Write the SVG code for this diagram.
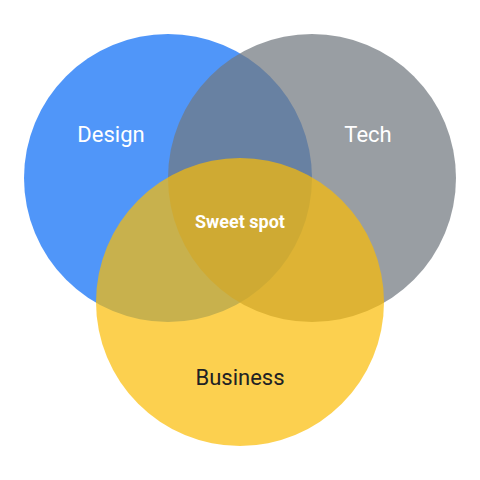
<svg xmlns="http://www.w3.org/2000/svg" width="480" height="480" viewBox="0 0 480 480">
<style>
.lbl{font-family:Roboto,"Liberation Sans",sans-serif;font-size:22px;text-anchor:middle;dominant-baseline:central}
.w{fill:#ffffff}
.d{fill:#202124}
.b{font-weight:bold;font-size:18px}
</style>
<rect width="480" height="480" fill="#ffffff"/>
<g id="design"><circle cx="168" cy="178" r="144" fill="#3D8BF8" fill-opacity="0.9"/></g>
<g id="tech"><circle cx="312" cy="178" r="144" fill="#72787F" fill-opacity="0.72"/></g>
<g id="business"><circle cx="240" cy="302" r="144" fill="#FBBC04" fill-opacity="0.7"/></g>
<g id="labels">
<text class="lbl w" x="111" y="134">Design</text>
<text class="lbl w" x="368" y="134">Tech</text>
<text class="lbl d" x="240" y="377">Business</text>
<text class="lbl w b" x="240" y="221">Sweet spot</text>
</g>
</svg>
